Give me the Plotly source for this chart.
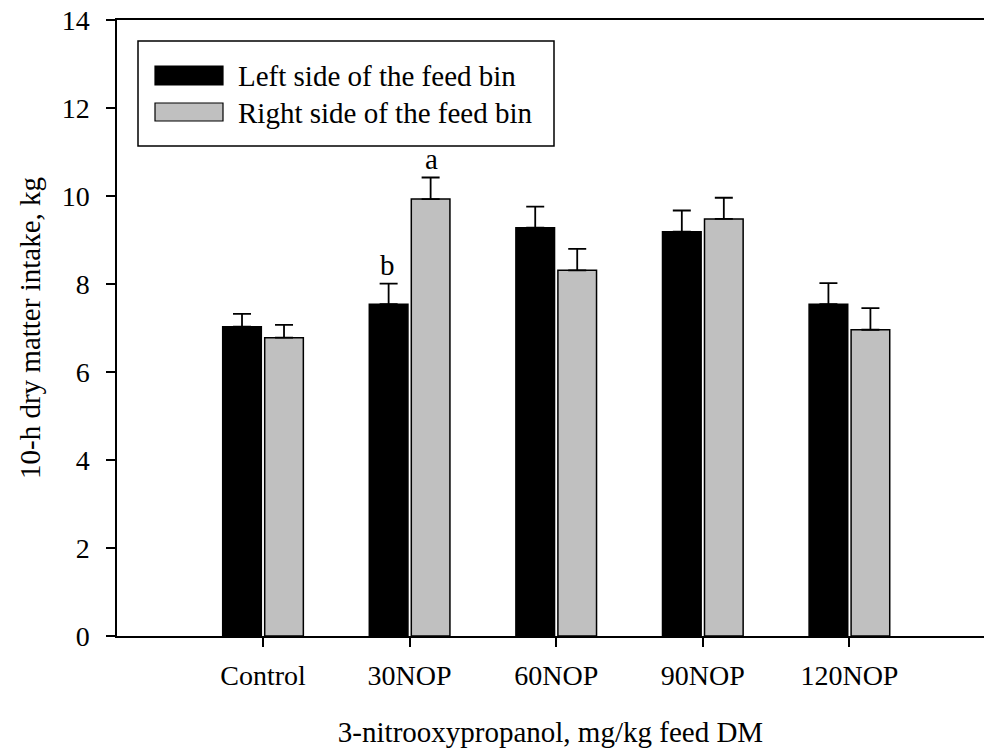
import plotly.graph_objects as go

categories = ["Control", "30NOP", "60NOP", "90NOP", "120NOP"]
left_vals = [7.03, 7.54, 9.28, 9.19, 7.54]
left_err = [0.29, 0.47, 0.48, 0.48, 0.48]
right_vals = [6.78, 9.93, 8.31, 9.48, 6.96]
right_err = [0.29, 0.49, 0.49, 0.48, 0.49]
series_names = ["Left side of the feed bin", "Right side of the feed bin"]
y_ticks = [0, 2, 4, 6, 8, 10, 12, 14]

FONT = "Liberation Serif, Times New Roman, serif"
BLACK = "#000000"
GRAY = "#c0c0c0"

fig = go.Figure()
fig.add_trace(go.Bar(
    x=categories, y=left_vals, name=series_names[0],
    marker=dict(color=BLACK, line=dict(color=BLACK, width=1.5)),
    error_y=dict(type="data", array=left_err, arrayminus=[0]*5, symmetric=False,
                 color=BLACK, thickness=1.8, width=9),
    showlegend=False,
))
fig.add_trace(go.Bar(
    x=categories, y=right_vals, name=series_names[1],
    marker=dict(color=GRAY, line=dict(color=BLACK, width=1.5)),
    error_y=dict(type="data", array=right_err, arrayminus=[0]*5, symmetric=False,
                 color=BLACK, thickness=1.8, width=9),
    showlegend=False,
))

FIG_W, FIG_H = 984, 753
# plot area geometry in pixels
L, R, T, B = 117, 984, 20, 636
W, H = R - L, B - T
def px(x):
    return (x - L) / W
def py(y):
    return (B - y) / H

shapes = [
    dict(type="rect", xref="paper", yref="paper", x0=px(138), x1=px(554), y0=py(146), y1=py(41),
         line=dict(color=BLACK, width=1.5), fillcolor="white"),
    dict(type="rect", xref="paper", yref="paper", x0=px(155), x1=px(223), y0=py(85), y1=py(66),
         line=dict(color=BLACK, width=1.2), fillcolor=BLACK),
    dict(type="rect", xref="paper", yref="paper", x0=px(155), x1=px(223), y0=py(121), y1=py(103),
         line=dict(color=BLACK, width=1.2), fillcolor=GRAY),
]

annotations = [
    dict(xref="paper", yref="paper", x=px(236), y=py(76), text=series_names[0], showarrow=False,
         xanchor="left", yanchor="middle", font=dict(family=FONT, size=29, color=BLACK)),
    dict(xref="paper", yref="paper", x=px(236), y=py(113), text=series_names[1], showarrow=False,
         xanchor="left", yanchor="middle", font=dict(family=FONT, size=29, color=BLACK)),
    dict(x=categories[1], y=left_vals[1] + left_err[1], text="b", showarrow=False,
         xshift=-22, yshift=1, yanchor="bottom", font=dict(family=FONT, size=29, color=BLACK)),
    dict(x=categories[1], y=right_vals[1] + right_err[1], text="a", showarrow=False,
         xshift=22, yshift=1, yanchor="bottom", font=dict(family=FONT, size=29, color=BLACK)),
]

fig.update_layout(
    width=FIG_W, height=FIG_H,
    margin=dict(l=L, r=FIG_W - R, t=T, b=FIG_H - B, autoexpand=False),
    paper_bgcolor="white", plot_bgcolor="white",
    barmode="group", bargap=0.427, bargroupgap=0.08,
    font=dict(family=FONT, size=28, color=BLACK),
    shapes=shapes, annotations=annotations,
    xaxis=dict(
        type="category", range=[-0.996, 4.918],
        showline=True, linecolor=BLACK, linewidth=2, mirror=True,
        ticks="outside", ticklen=9, tickwidth=1.5, tickcolor=BLACK,
        showgrid=False, zeroline=False,
        tickfont=dict(family=FONT, size=28, color=BLACK),
        ticklabelstandoff=4, ticklabeloverflow="allow",
        title=dict(text="3-nitrooxypropanol, mg/kg feed DM", standoff=32,
                   font=dict(family=FONT, size=29, color=BLACK)),
    ),
    yaxis=dict(
        range=[0, 14], tickvals=y_ticks,
        showline=True, linecolor=BLACK, linewidth=1.5, mirror=False,
        ticks="outside", ticklen=9, tickwidth=1.5, tickcolor=BLACK,
        showgrid=False, zeroline=False,
        tickfont=dict(family=FONT, size=28, color=BLACK),
        ticklabelstandoff=11, ticklabeloverflow="allow",
        title=dict(text="10-h dry matter intake, kg", standoff=13,
                   font=dict(family=FONT, size=29, color=BLACK)),
    ),
)

fig.write_html(
    "out.html",
    config={"displayModeBar": False},
    post_script="document.body.style.margin='0px';document.body.style.overflow='hidden';",
)
